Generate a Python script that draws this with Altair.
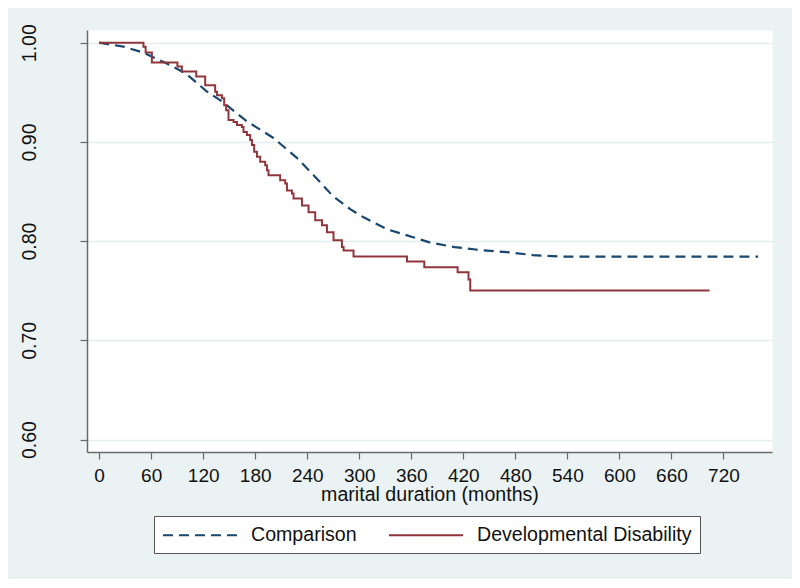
import altair as alt
import pandas as pd

series_names = ["Comparison", "Developmental Disability"]
series_colors = ["#1A476F", "#90353B"]

comp_months = [0, 28, 51, 78, 100, 124, 143, 170, 201, 228, 250, 270, 290, 305,
               332, 362, 380, 410, 440, 470, 500, 530, 600, 680, 760]
comp_surv = [1.0, 0.996, 0.99, 0.979, 0.969, 0.951, 0.940, 0.921, 0.904, 0.884,
             0.864, 0.845, 0.832, 0.824, 0.812, 0.804, 0.799, 0.794, 0.791, 0.789,
             0.786, 0.7845, 0.7845, 0.7845, 0.7845]

dd_months = [0, 51.1, 53.6, 60.8, 90.3, 95.4, 112, 122.3, 133.8, 136,
             141.6, 144.2, 146.5, 149.2, 155, 158.9, 164.6, 166.5, 170.4, 174.2,
             176.2, 178.8, 182, 185.8, 191.5, 193.5, 195.3, 208.8, 214.6, 216.6,
             222.3, 224.2, 233.9, 241.5, 249.2, 257, 262.7, 270.3, 280, 281.9,
             293.4, 355, 375, 413.4, 426, 428, 704]
dd_surv = [1.0, 0.996, 0.990, 0.980, 0.976, 0.971, 0.966, 0.957, 0.9505, 0.947,
           0.944, 0.937, 0.932, 0.922, 0.920, 0.917, 0.915, 0.910, 0.907, 0.902,
           0.897, 0.890, 0.885, 0.880, 0.8765, 0.8714, 0.8664, 0.8613, 0.858, 0.851,
           0.848, 0.843, 0.836, 0.829, 0.821, 0.816, 0.809, 0.801, 0.794, 0.7906,
           0.7845, 0.7795, 0.7737, 0.7687, 0.7613, 0.7502, 0.7502]

x_ticks = [0, 60, 120, 180, 240, 300, 360, 420, 480, 540, 600, 660, 720]
y_ticks = [0.6, 0.7, 0.8, 0.9, 1.0]

df = pd.concat([
    pd.DataFrame({"month": comp_months, "surv": comp_surv, "series": series_names[0]}),
    pd.DataFrame({"month": dd_months, "surv": dd_surv, "series": series_names[1]}),
], ignore_index=True)

FONT = "Liberation Sans, Arial, sans-serif"
AXIS_GRAY = "#6a6a6a"

leg = alt.Legend(
    title=None,
    orient="none",
    legendX=67,
    legendY=486,
    direction="horizontal",
    symbolType="M-1,0H6.4",
    symbolSize=400,
    symbolStrokeWidth=2,
    labelFont=FONT,
    labelFontSize=19.6,
    labelColor="#111111",
    labelOffset=67,
    labelLimit=400,
    columnPadding=28,
    padding=8,
    strokeColor="#555555",
    fillColor="white",
)

enc = dict(
    x=alt.X("month:Q",
            scale=alt.Scale(domain=[-14, 776], nice=False, zero=False),
            axis=alt.Axis(values=x_ticks, title="marital duration (months)", grid=False,
                          tickSize=7, labelPadding=22, labelBaseline="alphabetic",
                          labelFontSize=19, labelFont=FONT, labelColor="#111111",
                          titleFont=FONT, titleFontSize=19.6, titleFontWeight="normal",
                          titleColor="#111111", titleY=48, titleBaseline="alphabetic",
                          domainColor=AXIS_GRAY, domainWidth=1.5, tickColor=AXIS_GRAY,
                          tickWidth=1.2, labelOverlap=False)),
    y=alt.Y("surv:Q",
            scale=alt.Scale(domain=[0.5875, 1.0128], nice=False, zero=False),
            axis=alt.Axis(values=y_ticks, format=".2f", title=None, grid=True,
                          gridColor="#E4EEF0", gridWidth=1.5,
                          tickSize=7, labelPadding=45, labelAngle=270,
                          labelAlign="center", labelBaseline="alphabetic",
                          labelFontSize=19.5, labelFont=FONT, labelColor="#111111",
                          domainColor=AXIS_GRAY, domainWidth=1.5, tickColor=AXIS_GRAY,
                          tickWidth=1.2, labelOverlap=False)),
    color=alt.Color("series:N", scale=alt.Scale(domain=series_names, range=series_colors),
                    legend=leg),
    strokeDash=alt.StrokeDash("series:N",
                              scale=alt.Scale(domain=series_names, range=[[10, 6], [1, 0]]),
                              legend=leg),
)

base = alt.Chart(df)
comp = base.transform_filter(alt.datum.series == series_names[0]).mark_line(
    interpolate="linear", strokeWidth=2.2).encode(**enc)
dd = base.transform_filter(alt.datum.series == series_names[1]).mark_line(
    interpolate="step-after", strokeWidth=2).encode(**enc)

chart = alt.layer(comp, dd).properties(
    width=685,
    height=422,
    padding={"left": 79, "top": 22, "right": 20, "bottom": 127},
    autosize=alt.AutoSizeParams(type="none"),
    background="#EAF2F3",
).configure_view(fill="white", stroke="transparent")

chart.save("out.html", embed_options={"renderer": "svg", "actions": False})
